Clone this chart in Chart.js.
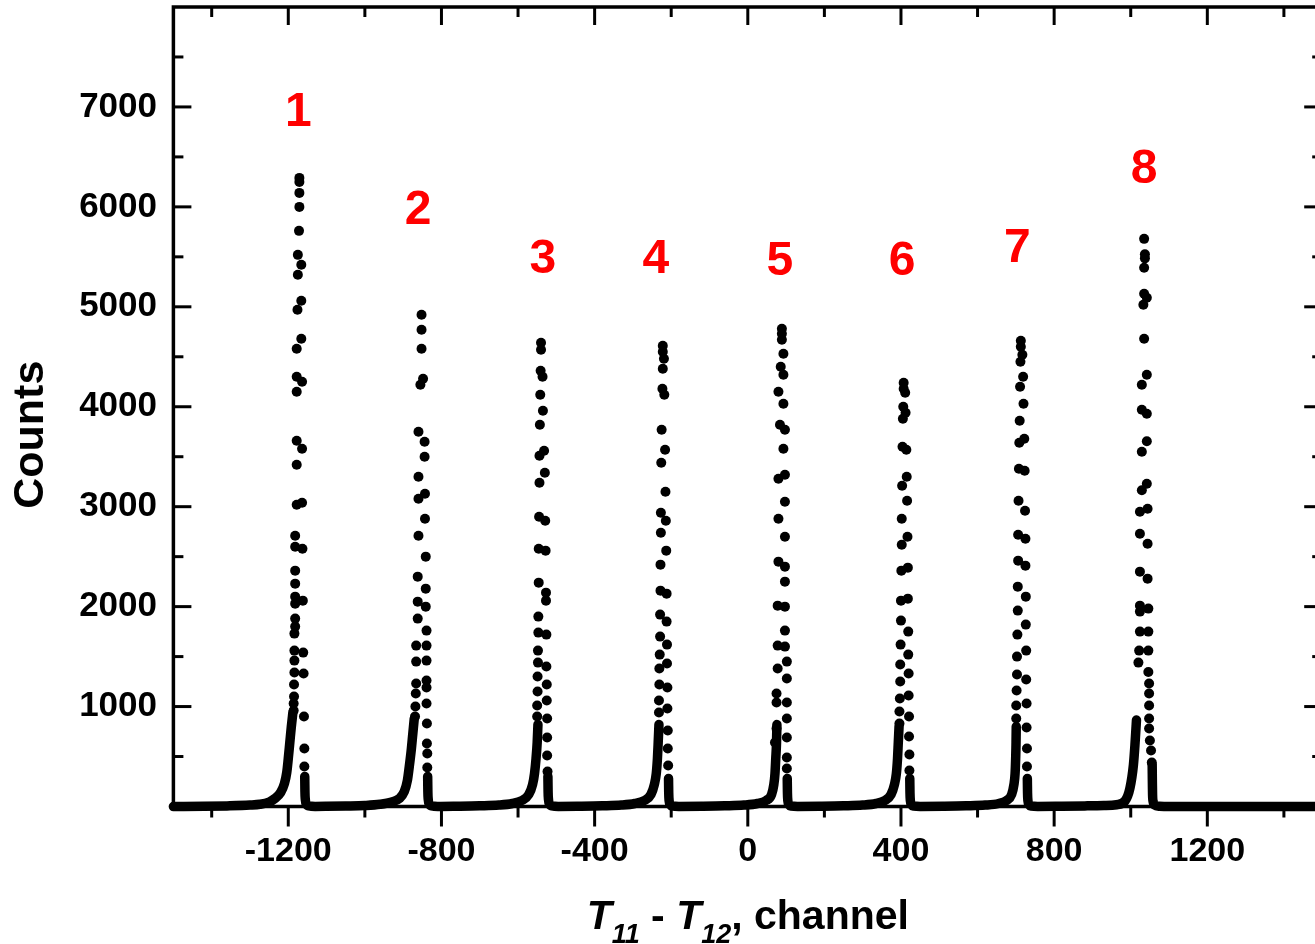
<!DOCTYPE html>
<html>
<head>
<meta charset="utf-8">
<script src="https://cdn.jsdelivr.net/npm/chart.js@4.4.1/dist/chart.umd.min.js"></script>
<style>
html,body{margin:0;padding:0;background:#fff;overflow:hidden;width:1315px;height:944px}
#wrap{position:absolute;left:0;top:0;width:1330px;height:944px}
canvas{display:block}
</style>
</head>
<body>
<div id="wrap"><canvas id="c" width="1330" height="944"></canvas></div>
<script>
// ---------- axis ticks ----------
const xTicks = [-1200, -800, -400, 0, 400, 800, 1200];
const xMinorTicks = [-1400, -1000, -600, -200, 200, 600, 1000, 1400];
const yTicks = [1000, 2000, 3000, 4000, 5000, 6000, 7000];
const yMinorTicks = [500, 1500, 2500, 3500, 4500, 5500, 6500, 7500];

// ---------- axis titles ----------
const yTitle = 'Counts';
const yTitleAt = 3720;   // counts value the y title is centred on

// ---------- peak annotations ----------
const peakNames = ['1', '2', '3', '4', '5', '6', '7', '8'];
const peakLabelX = [-1174, -861, -535, -240, 84, 403, 704, 1035];
const peakLabelY = [6940, 5960, 5470, 5470, 5450, 5450, 5580, 6370];

// ---------- peak points [channel, counts] ----------
const peak1 = [[-1171,6290],[-1171,6250],[-1171,6140],[-1171,6000],[-1172,5760],[-1175,5520],[-1175,5320],[-1176,4970],
  [-1178,4580],[-1178,4300],[-1178,4150],[-1178,3660],[-1178,3420],[-1178,3020],[-1182,2710],[-1182,2600],[-1182,2360],
  [-1182,2230],[-1182,2100],[-1182,2030],[-1182,1880],[-1182,1800],[-1184,1730],[-1184,1560],[-1184,1460],[-1184,1340],
  [-1185,1220],[-1185,1100],[-1186,1030],[-1186,960],
  [-1166,5420],[-1166,5060],[-1166,4680],[-1164,4250],[-1164,3580],[-1164,3040],[-1163,2580],[-1162,2060],[-1161,1540],
  [-1160,1330],[-1159,900],[-1158,580],[-1158,400]];
const peak2 = [[-852,4920],[-852,4770],[-852,4580],[-855,4220],[-860,3750],[-860,3300],[-860,3080],[-860,2710],[-862,2300],
  [-862,2050],[-862,1880],[-866,1610],[-866,1450],[-866,1230],[-867,1130],[-868,1000],[-869,900],
  [-848,4280],[-844,3650],[-844,3500],[-843,3130],[-843,2880],[-841,2500],[-841,2180],[-841,2000],[-839,1760],[-839,1610],
  [-839,1460],[-839,1260],[-839,1190],[-839,1030],[-838,830],[-838,630],[-837,530],[-837,390]];
const peak3 = [[-540,4640],[-540,4570],[-541,4360],[-542,4120],[-543,3820],[-544,3510],[-544,3240],[-545,2900],[-546,2580],
  [-546,2240],[-547,1900],[-547,1740],[-548,1560],[-548,1440],[-549,1300],[-549,1150],[-550,1010],[-550,900],
  [-536,4300],[-535,3960],[-532,3560],[-530,3340],[-529,2860],[-528,2560],[-527,2140],[-527,2060],[-526,1720],[-526,1400],
  [-525,1220],[-525,1060],[-524,880],[-524,690],[-524,510],[-523,350]];
const peak4 = [[-222,4610],[-222,4550],[-222,4380],[-223,4180],[-225,3770],[-226,3440],[-227,2940],[-227,2740],[-228,2420],
  [-228,2160],[-229,1920],[-229,1700],[-230,1520],[-231,1380],[-231,1220],[-232,1060],[-232,940],
  [-219,4480],[-218,4120],[-216,3570],[-215,3150],[-214,2860],[-213,2560],[-212,2130],[-212,1850],[-211,1620],[-211,1430],
  [-210,1190],[-210,980],[-209,760],[-209,580],[-208,410]];
const peak5 = [[89,4780],[89,4730],[89,4670],[93,4530],[86,4400],[93,4320],[80,4150],[93,4030],[84,3820],[97,3770],[93,3580],
  [80,3280],[97,3320],[97,3050],[80,2880],[97,2700],[80,2450],[97,2400],[97,2250],[78,2010],[97,2000],[97,1760],[78,1610],
  [97,1600],[102,1450],[78,1380],[102,1280],[75,1130],[75,1040],[102,1040],[102,880],[75,780],[102,690],[71,640],[102,490],
  [102,380]];
const peak6 = [[407,4240],[407,4180],[406,4000],[405,3880],[404,3600],[403,3210],[402,2880],[402,2620],[401,2360],[400,2060],
  [400,1860],[399,1620],[398,1420],[398,1250],[397,1080],[396,950],[396,830],
  [411,4140],[412,3940],[414,3570],[415,3300],[416,3060],[417,2700],[418,2390],[418,2080],[419,1750],[419,1520],[420,1330],
  [420,1110],[421,900],[421,700],[422,520],[422,360]];
const peak7 = [[713,4660],[713,4600],[712,4450],[711,4200],[710,3860],[709,3640],[708,3380],[707,3060],[706,2720],[706,2460],
  [705,2200],[705,1960],[704,1720],[703,1500],[703,1320],[702,1160],[701,1010],[701,880],
  [717,4520],[719,4300],[720,4030],[722,3680],[723,3360],[724,2960],[725,2680],[725,2410],[726,2100],[726,1820],[727,1560],
  [727,1270],[728,1030],[728,790],[729,580],[729,400]];
const peak8 = [[1035,5680],[1037,5525],[1037,5485],[1035,5390],[1035,5130],[1042,5090],[1033,5020],[1035,4680],[1042,4320],
  [1029,4220],[1029,3970],[1042,3930],[1042,3655],[1029,3550],[1042,3230],[1029,3165],[1044,2980],[1024,2950],[1024,2730],
  [1044,2630],[1024,2350],[1044,2280],[1024,2010],[1024,1950],[1046,1980],[1024,1750],[1046,1750],[1022,1560],[1046,1560],
  [1020,1440],[1046,1345],[1048,1230],[1048,1130],[1048,1010],[1048,880],[1048,780],[1050,660],[1053,560],[1055,440]];

// ---------- baseline, left tails and right feet [channel, counts]; a break between segments ----------
const baseSeg0 = [[-1500,0],[-1420,2],[-1360,6],[-1300,14],[-1274,22],[-1250,45],[-1235,80],[-1220,140],[-1210,230],
  [-1204,340],[-1200,480],[-1196,640],[-1192,800],[-1188,940]];
const baseSeg1 = [[-1157,300],[-1156.5,150],[-1155.5,70],[-1153,25],[-1146,6],[-1130,1],[-1100,2],[-1050,5],[-1000,10],
  [-960,22],[-930,45],[-910,80],[-897,150],[-889,260],[-884,400],[-879,560],[-875,720],[-871,880]];
const baseSeg2 = [[-836,300],[-835.5,150],[-834.5,70],[-832,25],[-825,6],[-810,1],[-760,3],[-700,7],[-650,14],[-615,30],
  [-590,60],[-572,120],[-562,220],[-557,330],[-553,480],[-550,640],[-548,820]];
const baseSeg3 = [[-522,300],[-521.5,150],[-520.5,70],[-518,25],[-511,6],[-495,1],[-440,3],[-380,7],[-330,14],[-295,30],
  [-270,60],[-253,120],[-244,220],[-239,330],[-236,480],[-234,640],[-232,820]];
const baseSeg4 = [[-207,280],[-206.5,140],[-205.5,60],[-203,20],[-196,5],[-180,1],[-120,3],[-60,7],[-10,14],[25,30],[48,60],
  [62,120],[68,220],[71,330],[73,480],[75,640],[76,820]];
const baseSeg5 = [[103,280],[103.5,140],[104.5,60],[107,20],[114,5],[130,1],[190,3],[250,7],[300,14],[335,30],[358,60],
  [374,120],[383,220],[388,330],[391,480],[393,640],[395,800]];
const baseSeg6 = [[423,280],[423.5,140],[424.5,60],[427,20],[434,5],[450,1],[510,3],[570,7],[620,14],[655,30],[676,60],
  [689,120],[695,220],[698,330],[699.5,480],[700.5,640],[701,800]];
const baseSeg7 = [[730,280],[730.5,140],[731.5,60],[734,20],[741,5],[757,1],[820,3],[880,6],[930,10],[963,18],[985,55],
  [998,185],[1007,415],[1011,615],[1015,865]];
const baseSeg8 = [[1056,420],[1056.5,250],[1057,120],[1058.5,50],[1062,15],[1075,3],[1100,0],[1300,0],[1500,0]];

// ---------- build datasets ----------
const toPts = arr => arr.map(p => ({x: p[0], y: p[1]}));
const peakPoints = [].concat(...[peak1, peak2, peak3, peak4, peak5, peak6, peak7, peak8].map(toPts));
const baseSegs = [baseSeg0, baseSeg1, baseSeg2, baseSeg3, baseSeg4, baseSeg5, baseSeg6, baseSeg7, baseSeg8];
const basePoints = [];
baseSegs.forEach((s, i) => {
  if (i > 0) basePoints.push({x: s[0][0] - 0.1, y: null});
  basePoints.push(...toPts(s));
});

const FONT = '"Liberation Sans", Arial, Helvetica, sans-serif';

const framePlugin = {
  id: 'frameTicks',
  afterDatasetsDraw(chart) {
    const {ctx, chartArea: a, scales: {x, y}} = chart;
    ctx.save();
    ctx.strokeStyle = '#000';
    ctx.lineCap = 'butt';
    ctx.lineWidth = 3;
    const tick = (x1, y1, x2, y2) => { ctx.beginPath(); ctx.moveTo(x1, y1); ctx.lineTo(x2, y2); ctx.stroke(); };
    xTicks.forEach(v => { const p = x.getPixelForValue(v); tick(p, a.bottom, p, a.bottom + 20); tick(p, a.top, p, a.top + 18); });
    xMinorTicks.forEach(v => { const p = x.getPixelForValue(v); tick(p, a.bottom, p, a.bottom + 11); tick(p, a.top, p, a.top + 10); });
    yTicks.forEach(v => { const p = y.getPixelForValue(v); tick(a.left, p, a.left + 18, p); tick(a.right, p, a.right - 18, p); });
    yMinorTicks.forEach(v => { const p = y.getPixelForValue(v); tick(a.left, p, a.left + 10, p); tick(a.right, p, a.right - 10, p); });
    ctx.lineWidth = 3.5;
    ctx.strokeRect(a.left, a.top, a.right - a.left, a.bottom - a.top);
    // peak numbers
    ctx.fillStyle = '#ff0000';
    ctx.font = 'bold 48px ' + FONT;
    ctx.textAlign = 'center';
    ctx.textBaseline = 'middle';
    peakNames.forEach((t, i) => ctx.fillText(t, x.getPixelForValue(peakLabelX[i]), y.getPixelForValue(peakLabelY[i])));
    // y-axis title
    ctx.fillStyle = '#000';
    ctx.save();
    ctx.translate(31, y.getPixelForValue(yTitleAt));
    ctx.rotate(-Math.PI / 2);
    ctx.font = 'bold 43px ' + FONT;
    ctx.fillText(yTitle, 0, 0);
    ctx.restore();
    // x-axis title: T11 - T12, channel
    const parts = [
      ['T', 'italic bold 41px ' + FONT, 0],
      ['11', 'italic bold 27px ' + FONT, 14],
      [' - ', 'bold 41px ' + FONT, 0],
      ['T', 'italic bold 41px ' + FONT, 0],
      ['12', 'italic bold 27px ' + FONT, 14],
      [', channel', 'bold 41px ' + FONT, 0]
    ];
    let total = 0;
    parts.forEach(p => { ctx.font = p[1]; p.push(ctx.measureText(p[0]).width); total += p[3]; });
    let cx = (a.left + a.right) / 2 - total / 2;
    const base = a.bottom + 122;
    ctx.textAlign = 'left';
    ctx.textBaseline = 'alphabetic';
    parts.forEach(p => { ctx.font = p[1]; ctx.fillText(p[0], cx, base + p[2]); cx += p[3]; });
    ctx.restore();
  }
};

new Chart(document.getElementById('c'), {
  type: 'scatter',
  data: {
    datasets: [
      {
        label: 'baseline',
        type: 'line',
        data: basePoints,
        showLine: true,
        spanGaps: false,
        borderColor: '#000',
        borderWidth: 9.5,
        borderCapStyle: 'round',
        borderJoinStyle: 'round',
        cubicInterpolationMode: 'monotone',
        pointRadius: 0,
        clip: false
      },
      {
        label: 'Counts',
        data: peakPoints,
        pointRadius: 5,
        pointHoverRadius: 5,
        pointBackgroundColor: '#000',
        pointBorderWidth: 0,
        clip: false
      }
    ]
  },
  options: {
    responsive: false,
    animation: false,
    devicePixelRatio: 1,
    layout: {padding: {left: 0, top: 7, right: 7.8, bottom: 0}},
    plugins: {legend: {display: false}, tooltip: {enabled: false}},
    scales: {
      x: {
        type: 'linear',
        position: 'bottom',
        min: -1500,
        max: 1500,
        grid: {display: false, drawTicks: false},
        border: {display: false},
        ticks: {color: '#000', font: {family: FONT, size: 34, weight: 'bold'}, padding: 25, maxRotation: 0, autoSkip: false,
          callback: v => String(v)},
        afterBuildTicks: s => { s.ticks = xTicks.map(v => ({value: v})); },
        afterFit: s => { s.height = 137.5; s.paddingLeft = 0; s.paddingRight = 0; }
      },
      y: {
        type: 'linear',
        position: 'left',
        min: 0,
        max: 8000,
        grid: {display: false, drawTicks: false},
        border: {display: false},
        ticks: {color: '#000', font: {family: FONT, size: 35, weight: 'bold'}, padding: 16.4, callback: v => String(v)},
        afterBuildTicks: s => { s.ticks = yTicks.map(v => ({value: v})); },
        afterFit: s => { s.width = 173.4; s.paddingTop = 0; s.paddingBottom = 0; }
      }
    }
  },
  plugins: [framePlugin]
});
</script>
</body>
</html>
